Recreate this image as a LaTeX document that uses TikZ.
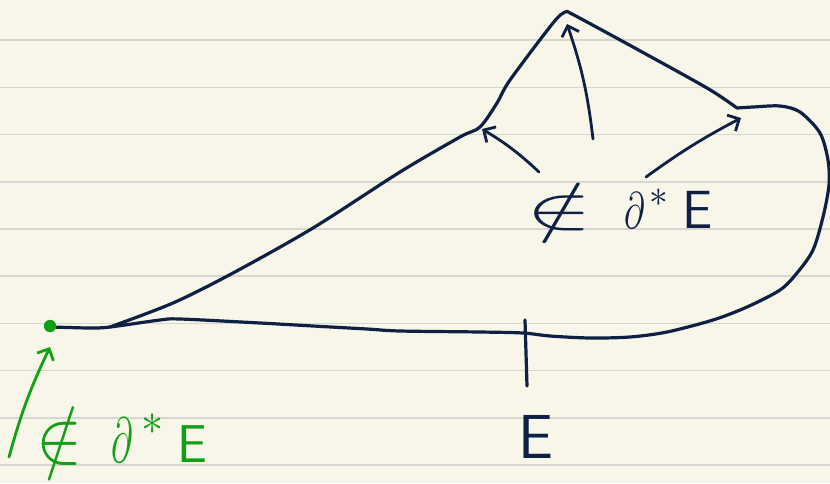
\documentclass[tikz,border=0pt]{standalone}
\usepackage{amsmath}
\usepackage{amssymb}
\usetikzlibrary{arrows.meta}
\definecolor{paper}{RGB}{248,246,233}
\definecolor{ruling}{RGB}{214,214,210}
\definecolor{ink}{RGB}{14,32,68}
\definecolor{marker}{RGB}{16,160,20}
\tikzset{
    every node/.style={inner sep=0pt},
    curve/.style={ink, line width=3.2pt, line cap=round, line join=round},
    arr/.style={ink, line width=2.8pt, line cap=round, line join=round,
        -{Straight Barb[length=9pt, width=18pt]}},
    garr/.style={arr, marker},
    lbl/.style={anchor=base west, text=ink, font=\Huge}
}

\begin{document}
\begin{tikzpicture}[x=1pt, y=1pt]
    \useasboundingbox (0,0) rectangle (830,-483);
    \fill[paper] (0,0) rectangle (830,-483);
    \foreach \k in {0,...,9}
        \draw[ruling, line width=1.6pt] (0,-40.1-47.2*\k) -- (830,-40.1-47.2*\k);

    \coordinate (dot) at (50,-326);
    \coordinate (tipL) at (482,-129);
    \coordinate (tipM) at (567,-24);
    \coordinate (tipR) at (741,-118);
    \coordinate (tipG) at (50,-347);
    \coordinate (tailL) at (539,-172);
    \coordinate (tailM) at (593,-139);
    \coordinate (tailR) at (646,-177);
    \coordinate (tailG) at (9,-457);

    \draw[curve] plot[smooth, tension=0.5] coordinates {(52,-327) (90,-328) (110,-327) (160,-320) (180,-319)
        (260,-323) (313,-326) (367,-329) (400,-331) (480,-332) (523,-333) (550,-336) (590,-338) (630,-337)
        (667,-332) (713,-320) (747,-307) (780,-290) (797,-273) (813,-250) (823,-217) (829,-185) (828,-160)
        (820,-133) (800,-112) (780,-106) (753,-107) (737,-108)};
    \draw[curve] plot[smooth, tension=0.5] coordinates {(737,-108) (707,-88) (633,-47) (587,-22) (570,-13)
        (565,-12) (553,-23) (510,-80) (497,-103) (480,-127) (460,-137) (400,-172) (313,-228) (233,-273)
        (173,-303) (110,-327)};
    \draw[curve] (525,-320) -- (527,-386);
    \fill[marker] (dot) circle (6.2);

    \draw[arr] (tailL) to[bend right=6] (tipL);
    \draw[arr] (tailM) to[bend right=6] (tipM);
    \draw[arr] (tailR) to[bend left=4] (tipR);
    \draw[garr] (tailG) to[bend left=5] (tipG);

    \node[lbl, scale=1.8] (notbd) at (526,-228)
        {$\scalebox{2.2}[1.35]{$\notin$}\hspace{0.73em}\scalebox{0.8}[1.15]{$\partial$}^{\hspace{0.1em}*}\hspace{0.3em}\scalebox{1.2}{$\mathsf{E}$}$};
    \node[lbl, scale=2.14, text=marker] (gnotbd) at (36,-462)
        {$\scalebox{1.3}[1.4]{$\notin$}\hspace{0.55em}\scalebox{0.7}[1.2]{$\partial$}^{\hspace{0.15em}*}\hspace{0.25em}\mathsf{E}$};
    \node[lbl, scale=2.5] (setE) at (518,-458) {$\mathsf{E}$};
\end{tikzpicture}
\end{document}
